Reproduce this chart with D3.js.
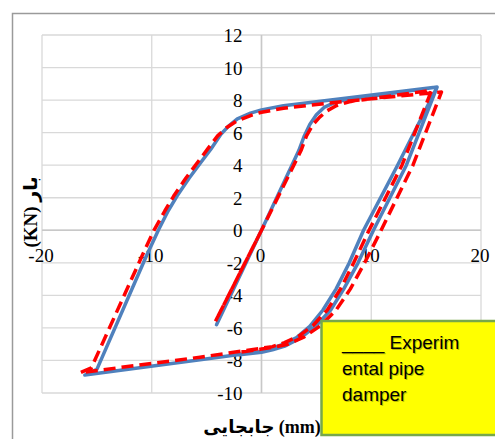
<!DOCTYPE html>
<html>
<head>
<meta charset="utf-8">
<script src="https://cdn.jsdelivr.net/npm/d3@7"></script>
<style>
  body { margin: 0; background: #fff; }
</style>
</head>
<body>
<div id="chart"></div>
<script>
// values (displacement mm, load KN)
var blueX = [-4.1, 0, 3.4, 3.9, 4.4, 5.0, 5.7, 6.5, 7.5, 16,
    12.4, 9.3, 8.0, 6.8, 5.6, 4.4, 3.2, 2.0, 1.0, 0, -5.6, -16.1,
    -15, -10.5, -9.4, -8.5, -7.7, -6.6, -5.6, -4.6, -3.7, -3.0, -2.2, -1, 0, 2, 8, 16,
    13.2, 10.2, 8.8, 7.5, 6.3, 5.0, 3.6, 2.2, 1.0, 0, -2];
var blueY = [-5.8, 0, 4.9, 5.8, 6.5, 7.1, 7.55, 7.8, 8.0, 8.8,
    4, 0, -2, -3.6, -4.9, -5.9, -6.6, -7.0, -7.25, -7.45, -7.95, -8.9,
    -8.55, -1.6, 0, 1.2, 2.1, 3.2, 4.1, 5.0, 5.9, 6.4, 6.85, 7.2, 7.4, 7.65, 8.15, 8.8,
    4, 0, -2, -3.6, -4.9, -5.85, -6.6, -7.1, -7.35, -7.5, -7.65];

var redX = [0, -4.2, 0, 3.6, 4.1, 4.7, 5.3, 6.0, 6.8, 8, 15.5,
    12.8, 9.8, 8.4, 7.2, 6.0, 4.7, 3.4, 2.1, 1.0, 0, -5.6, -16.5,
    -15.5, -10.9, -9.8, -8.8, -8.0, -6.9, -5.9, -4.9, -4.0, -3.2, -2.3, -1, 0, 2, 8, 16.4,
    13.8, 10.9, 9.4, 8.1, 6.8, 5.4, 3.9, 2.4, 1.0, 0, -2];
var redY = [0, -5.6, 0, 4.9, 5.8, 6.5, 6.95, 7.35, 7.65, 7.9, 8.6,
    4, 0, -2, -3.6, -4.9, -5.85, -6.5, -6.9, -7.15, -7.25, -7.8, -8.75,
    -8.45, -1.6, 0, 1.2, 2.1, 3.2, 4.1, 5.0, 5.8, 6.3, 6.7, 7.05, 7.25, 7.5, 7.95, 8.5,
    4, 0, -2, -3.6, -4.9, -5.85, -6.55, -7.0, -7.2, -7.3, -7.5];

var xTicks = [-20, -10, 0, 10, 20];
var yTicks = [-10, -8, -6, -4, -2, 0, 2, 4, 6, 8, 10, 12];
var legendLines = ['____ Experim', 'ental pipe', 'damper'];

var width = 495, height = 439;
var plotLeft = 42, plotRight = 481, plotTop = 35, plotBottom = 393;

var svg = d3.select('#chart').append('svg')
    .attr('width', width)
    .attr('height', height);

// outer chart border
svg.append('rect')
    .attr('x', 12.5).attr('y', 13.5)
    .attr('width', 520).attr('height', 460)
    .attr('fill', '#fff')
    .attr('stroke', '#9a9a9a')
    .attr('stroke-width', 1.5);

var x = d3.scaleLinear().domain([-20, 20]).range([plotLeft, plotRight]);
var y = d3.scaleLinear().domain([-10, 12]).range([plotBottom, plotTop]);

// grid
svg.append('g').selectAll('line.v')
    .data(xTicks).enter().append('line')
    .attr('x1', d => x(d)).attr('x2', d => x(d))
    .attr('y1', plotTop).attr('y2', plotBottom)
    .attr('stroke', '#d9d9d9').attr('stroke-width', 1.3);

svg.append('g').selectAll('line.h')
    .data(yTicks).enter().append('line')
    .attr('x1', plotLeft).attr('x2', plotRight)
    .attr('y1', d => y(d)).attr('y2', d => y(d))
    .attr('stroke', '#d9d9d9').attr('stroke-width', 1.3);

// axes through zero
svg.append('line')
    .attr('x1', x(0)).attr('x2', x(0))
    .attr('y1', plotTop).attr('y2', plotBottom)
    .attr('stroke', '#c8c8c8').attr('stroke-width', 1.5);
svg.append('line')
    .attr('x1', plotLeft).attr('x2', plotRight)
    .attr('y1', y(0)).attr('y2', y(0))
    .attr('stroke', '#c8c8c8').attr('stroke-width', 1.5);

// tick labels
svg.append('g').selectAll('text')
    .data(yTicks).enter().append('text')
    .attr('x', x(0) - 19)
    .attr('y', d => y(d) + 7)
    .attr('text-anchor', 'end')
    .style('font', '19px "Liberation Serif"')
    .text(d => d);

svg.append('g').selectAll('text')
    .data(xTicks).enter().append('text')
    .attr('x', d => x(d) - 1)
    .attr('y', y(0) + 32)
    .attr('text-anchor', 'middle')
    .style('font', '19px "Liberation Serif"')
    .text(d => d);

// series
var lineGen = d3.line()
    .x(d => x(d[0]))
    .y(d => y(d[1]));

var bluePts = blueX.map((v, i) => [v, blueY[i]]);
var redPts = redX.map((v, i) => [v, redY[i]]);

svg.append('path')
    .datum(bluePts)
    .attr('d', lineGen)
    .attr('fill', 'none')
    .attr('stroke', '#4f81bd')
    .attr('stroke-width', 3.5)
    .attr('stroke-linejoin', 'round')
    .attr('stroke-linecap', 'round');

svg.append('path')
    .datum(redPts)
    .attr('d', lineGen)
    .attr('fill', 'none')
    .attr('stroke', '#ff0000')
    .attr('stroke-width', 3.5)
    .attr('stroke-dasharray', '12,6')
    .attr('stroke-linejoin', 'round');

// axis titles
svg.append('text')
    .attr('transform', 'translate(37,' + 212 + ') rotate(-90)')
    .attr('text-anchor', 'middle')
    .style('font', 'bold 19px "Liberation Serif", "DejaVu Sans"')
    .text('(KN) بار');

svg.append('text')
    .attr('x', 262)
    .attr('y', 433)
    .attr('text-anchor', 'middle')
    .style('font', 'bold 18px "Liberation Serif", "DejaVu Sans"')
    .text('جابجایی (mm)');

// legend box
var legend = svg.append('g');
legend.append('rect')
    .attr('x', 321.5).attr('y', 321)
    .attr('width', 200).attr('height', 114)
    .attr('fill', '#ffff00')
    .attr('stroke', '#77a84a')
    .attr('stroke-width', 2.5);

legend.selectAll('text.shadow')
    .data(legendLines).enter().append('text')
    .attr('x', 342 + 1).attr('y', (d, i) => 349 + i * 26 + 1)
    .attr('fill', '#000').attr('opacity', 0.25)
    .style('font', '19px "Liberation Sans"')
    .text(d => d);

legend.selectAll('text.main')
    .data(legendLines).enter().append('text')
    .attr('x', 342).attr('y', (d, i) => 349 + i * 26)
    .attr('fill', '#000')
    .style('font', '19px "Liberation Sans"')
    .text(d => d);
</script>
</body>
</html>
